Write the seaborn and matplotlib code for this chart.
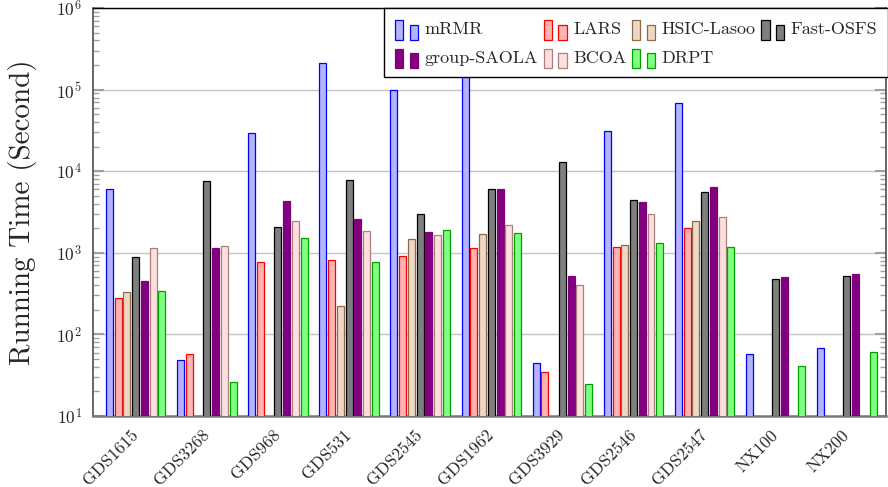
import numpy as np
import pandas as pd
import matplotlib
matplotlib.use("Agg")
import matplotlib.pyplot as plt
from matplotlib.patches import Rectangle, Patch
from matplotlib.legend_handler import HandlerBase
import seaborn as sns

# Datasets and methods
datasets = ["GDS1615", "GDS3268", "GDS968", "GDS531", "GDS2545", "GDS1962",
            "GDS3929", "GDS2546", "GDS2547", "NX100", "NX200"]
methods = ["mRMR", "LARS", "HSIC-Lasoo", "Fast-OSFS", "group-SAOLA", "BCOA", "DRPT"]

nan = np.nan
# Running time (seconds) of each method per dataset; NaN = not available
mrmr        = [6000, 48, 29800, 212000, 99500, 310000, 45, 31300, 68600, 58, 68]
lars        = [282, 57, 780, 825, 905, 1130, 35, 1175, 2010, nan, nan]
hsic        = [330, nan, nan, 220, 1465, 1720, nan, 1235, 2450, nan, nan]
fast_osfs   = [890, 7650, 2070, 7750, 3000, 5980, 13100, 4450, 5600, 473, 520]
group_saola = [450, 1150, 4270, 2600, 1790, 5980, 525, 4150, 6450, 510, 557]
bcoa        = [1130, 1220, 2430, 1840, 1660, 2190, 400, 2970, 2780, nan, nan]
drpt        = [345, 26, 1505, 780, 1880, 1755, 25, 1305, 1165, 40.5, 61]

series = dict(zip(methods, [mrmr, lars, hsic, fast_osfs, group_saola, bcoa, drpt]))

fills = {
    "mRMR": "#b3b3ff", "LARS": "#ffb3b3", "HSIC-Lasoo": "#ecd8c4",
    "Fast-OSFS": "#7f7f7f", "group-SAOLA": "#800080", "BCOA": "#ffdede",
    "DRPT": "#80ff80",
}
edges = {
    "mRMR": "#0000ff", "LARS": "#ff0000", "HSIC-Lasoo": "#8c6a48",
    "Fast-OSFS": "#000000", "group-SAOLA": "#800080", "BCOA": "#a88080",
    "DRPT": "#00a000",
}

rows = []
for m, vals in series.items():
    for d, v in zip(datasets, vals):
        if not np.isnan(v):
            rows.append({"dataset": d, "method": m, "time": v})
df = pd.DataFrame(rows)

sns.set_theme(style="white")
plt.rcParams["font.family"] = ["cmr10", "DejaVu Serif"]
plt.rcParams["mathtext.fontset"] = "cm"
plt.rcParams["axes.formatter.use_mathtext"] = True

fig = plt.figure(figsize=(8.88, 4.87), dpi=100)
ax = fig.add_axes([93 / 888, 1 - 416 / 487, 793 / 888, 408 / 487])
ax.set_yscale("log")

sns.barplot(data=df, x="dataset", y="time", hue="method",
            order=datasets, hue_order=methods,
            palette=[fills[m] for m in methods],
            width=0.86, gap=0.2, errorbar=None, saturation=1,
            legend=False, ax=ax, zorder=3)

for cont, m in zip(ax.containers, methods):
    for bar in cont:
        bar.set_facecolor(fills[m])
        bar.set_edgecolor(edges[m])
        bar.set_linewidth(0.9)

ax.set_ylim(10, 1e6)
ax.set_xlim(-0.6, 10.55)

# axes frame
for side in ["left", "right"]:
    ax.spines[side].set_color("#5a5a5a")
    ax.spines[side].set_linewidth(1.3)
ax.spines["top"].set_color("#000000")
ax.spines["top"].set_linewidth(1.0)
ax.spines["bottom"].set_color("#7a7a7a")
ax.spines["bottom"].set_linewidth(1.8)

ax.yaxis.grid(True, which="major", color="#c4c4c4", linewidth=1.0, zorder=0)
ax.set_axisbelow(True)

yt = [10, 1e2, 1e3, 1e4, 1e5, 1e6]
ax.set_yticks(yt)
ax.set_yticklabels([r"$10^{%d}$" % e for e in range(1, 7)], fontsize=12.5)
ax.yaxis.set_minor_locator(matplotlib.ticker.LogLocator(base=10, subs=np.arange(2, 10)))
ax.yaxis.set_minor_formatter(matplotlib.ticker.NullFormatter())
ax.tick_params(axis="y", which="major", direction="in", length=8, width=1.5,
               color="#a0a0a0", left=True, right=True, pad=8)
ax.tick_params(axis="y", which="minor", direction="in", length=4.5, width=1.0,
               color="#a0a0a0", left=True, right=True)
ax.tick_params(axis="x", length=0, pad=12)

ax.set_xlabel("")
ax.set_xticks(range(len(datasets)))
ax.set_xticklabels(datasets, rotation=45, ha="right", va="center",
                   rotation_mode="anchor", fontsize=12.5)
ax.set_ylabel("Running Time (Second)", fontsize=21)
ax.yaxis.set_label_coords(-0.07, 0.5)


class TwoBarHandler(HandlerBase):
    def __init__(self, face, edge):
        super().__init__()
        self.face = face
        self.edge = edge

    def create_artists(self, legend, orig_handle, xdescent, ydescent,
                       width, height, fontsize, trans):
        bw = width * 0.35
        y0 = -ydescent - 0.12 * height
        r1 = Rectangle((-xdescent, y0), bw, height * 1.05,
                       facecolor=self.face, edgecolor=self.edge, lw=0.9,
                       transform=trans)
        r2 = Rectangle((-xdescent + width * 0.62, y0), bw, height * 0.8,
                       facecolor=self.face, edgecolor=self.edge, lw=0.9,
                       transform=trans)
        return [r1, r2]


legend_order = ["mRMR", "group-SAOLA", "LARS", "BCOA", "HSIC-Lasoo", "DRPT", "Fast-OSFS"]
handles = [Patch(label=m) for m in legend_order]
hmap = {h: TwoBarHandler(fills[m], edges[m]) for h, m in zip(handles, legend_order)}
leg = ax.legend(handles=handles, labels=legend_order, handler_map=hmap, ncol=4,
                loc="upper right", bbox_to_anchor=(1.003, 1.0), borderaxespad=0,
                fontsize=13, frameon=True, fancybox=False, framealpha=1,
                handlelength=1.3, handleheight=1.2, handletextpad=0.33,
                columnspacing=0.32, labelspacing=0.55, borderpad=0.6)
leg.get_frame().set_edgecolor("#000000")
leg.get_frame().set_linewidth(1.0)
leg.set_zorder(10)

fig.savefig("out.png", dpi=100)
